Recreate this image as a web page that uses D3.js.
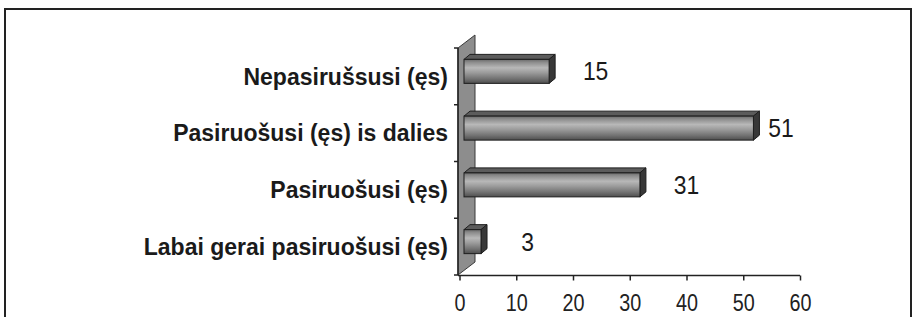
<!DOCTYPE html>
<html>
<head>
<meta charset="utf-8">
<script src="https://cdn.jsdelivr.net/npm/d3@7"></script>
<style>
  body { margin: 0; background: #fff; }
  svg { display: block; }
</style>
</head>
<body>
<div id="chart"></div>
<script>
const categories = ["Nepasirušsusi (ęs)", "Pasiruošusi (ęs) is dalies", "Pasiruošusi (ęs)", "Labai gerai pasiruošusi (ęs)"];
const values = [15, 51, 31, 3];
const xTicks = [0, 10, 20, 30, 40, 50, 60];

const W = 913, H = 317;
const font = "'Liberation Sans', Arial, sans-serif";

const svg = d3.select("#chart").append("svg")
    .attr("width", W)
    .attr("height", H);

// outer frame
svg.append("rect")
    .attr("x", 5).attr("y", 9)
    .attr("width", 906).attr("height", 330)
    .attr("fill", "none")
    .attr("stroke", "#222")
    .attr("stroke-width", 2);

const x = d3.scaleLinear().domain([0, 60]).range([459.5, 800]);
const y = d3.scaleBand().domain(categories).range([48, 275]).padding(0);

const wallDepth = { dx: 17, dy: -13 };
const barDepth = { dx: 6, dy: -5 };
const barH = 24;
const x0 = x(0) - 1.5;
const yTop = y.range()[0], yBot = y.range()[1];

// gradient for the front face of bars
const defs = svg.append("defs");
const grad = defs.append("linearGradient")
    .attr("id", "barFront").attr("x1", 0).attr("y1", 0).attr("x2", 0).attr("y2", 1);
[[0, "#6a6a6a"], [0.12, "#8c8c8c"], [0.35, "#b8b8b8"], [0.55, "#9c9c9c"], [0.8, "#737373"], [1, "#4e4e4e"]]
    .forEach(s => grad.append("stop").attr("offset", s[0]).attr("stop-color", s[1]));

// back wall
svg.append("path")
    .attr("d", `M${x0},${yTop} L${x0 + wallDepth.dx},${yTop + wallDepth.dy} L${x0 + wallDepth.dx},${yBot + wallDepth.dy} L${x0},${yBot} Z`)
    .attr("fill", "#8d8d8d")
    .attr("stroke", "#3a3a3a")
    .attr("stroke-width", 1);

// y axis line and ticks at band edges
const yEdges = d3.range(categories.length + 1).map(i => yTop + i * y.step());
svg.append("line")
    .attr("x1", x0).attr("x2", x0).attr("y1", yTop).attr("y2", yBot)
    .attr("stroke", "#222").attr("stroke-width", 1.5);
svg.append("g").selectAll("line")
    .data(yEdges)
    .enter().append("line")
    .attr("x1", x0 - 4).attr("x2", x0)
    .attr("y1", d => d).attr("y2", d => d)
    .attr("stroke", "#222").attr("stroke-width", 1.5);

// x axis
const xAxis = svg.append("g")
    .attr("transform", `translate(0,${yBot + 0.5})`)
    .call(d3.axisBottom(x).tickValues(xTicks).tickSize(5).tickSizeOuter(0).tickPadding(14));
xAxis.select(".domain").attr("stroke", "#222").attr("stroke-width", 1.5)
    .attr("d", `M${x0},0H${x(60)}`);
xAxis.selectAll(".tick line").attr("stroke", "#222").attr("stroke-width", 1.5);
xAxis.selectAll("text")
    .attr("transform", "scale(0.86,1)")
    .style("font-family", font)
    .style("font-size", "23px")
    .attr("fill", "#222");

// bars
const bars = svg.append("g").selectAll("g")
    .data(values)
    .enter().append("g");

const fx0 = x(0) + 4.5;
const frontY = (d, i) => y(categories[i]) + y.bandwidth() / 2 - 5 - barH / 2;

// top face
bars.append("path")
    .attr("d", (d, i) => {
        const yt = frontY(d, i), xr = x(d) + 4.5;
        return `M${fx0},${yt} L${fx0 + barDepth.dx},${yt + barDepth.dy} L${xr + barDepth.dx},${yt + barDepth.dy} L${xr},${yt} Z`;
    })
    .attr("fill", "#5c5c5c")
    .attr("stroke", "#1e1e1e").attr("stroke-width", 1);

// side face
bars.append("path")
    .attr("d", (d, i) => {
        const yt = frontY(d, i), xr = x(d) + 4.5;
        return `M${xr},${yt} L${xr + barDepth.dx},${yt + barDepth.dy} L${xr + barDepth.dx},${yt + barH + barDepth.dy} L${xr},${yt + barH} Z`;
    })
    .attr("fill", "#383838")
    .attr("stroke", "#1e1e1e").attr("stroke-width", 1);

// front face
bars.append("rect")
    .attr("x", fx0)
    .attr("y", (d, i) => frontY(d, i))
    .attr("width", d => x(d) + 4.5 - fx0)
    .attr("height", barH)
    .attr("fill", "url(#barFront)")
    .attr("stroke", "#1e1e1e").attr("stroke-width", 1);

// value labels (slightly condensed like the original)
bars.append("g")
    .attr("transform", (d, i) => `translate(${Math.min(x(d) + 51, x(60) - 19)},${frontY(d, i) + barH / 2}) scale(0.88,1)`)
    .append("text")
    .attr("dy", "0.35em")
    .attr("text-anchor", "middle")
    .text(d => d)
    .style("font-family", font)
    .style("font-size", "26px")
    .attr("fill", "#1a1a1a");

// category labels
svg.append("g").selectAll("text")
    .data(categories)
    .enter().append("text")
    .attr("x", 448)
    .attr("y", d => y(d) + y.bandwidth() / 2 + 8.3)
    .attr("text-anchor", "end")
    .text(d => d)
    .style("font-family", font)
    .style("font-weight", "bold")
    .style("font-size", "23px")
    .attr("fill", "#1a1a1a");
</script>
</body>
</html>
